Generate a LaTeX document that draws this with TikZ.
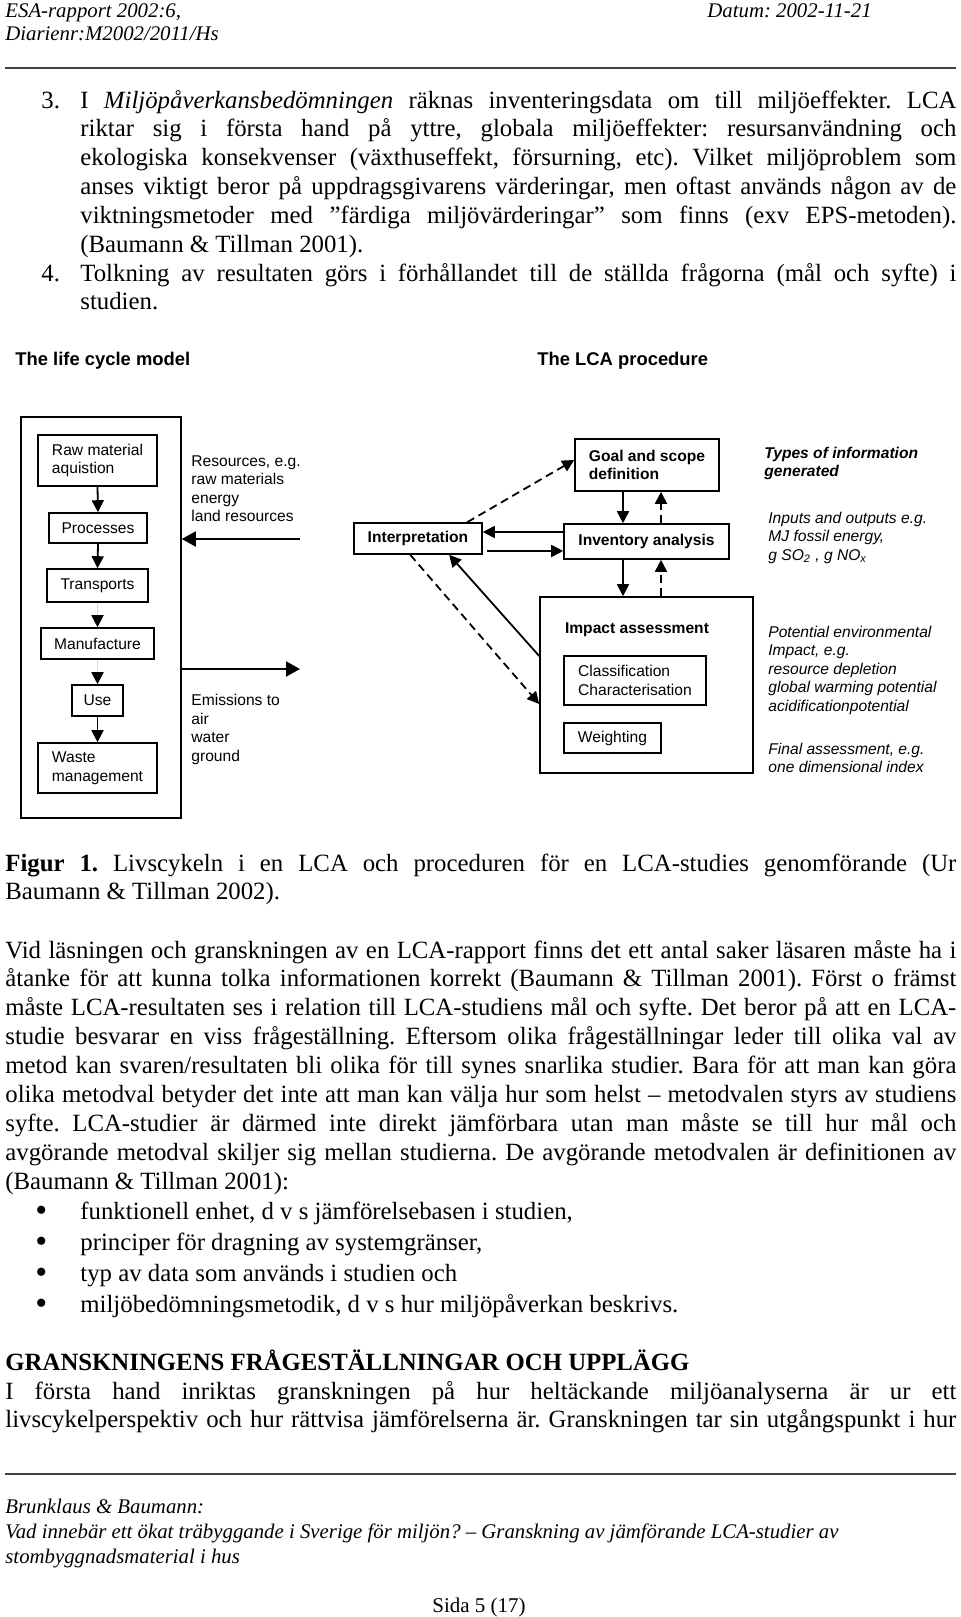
\documentclass[tikz,border=0pt]{standalone}
\usepackage{fontspec}
\setmainfont{Liberation Serif}
\setsansfont{Liberation Sans}
\usetikzlibrary{arrows.meta,calc}
\frenchspacing
\newcommand\justline[1]{\makebox[\hsize][s]{\spaceskip=0pt\xspaceskip=0pt #1}}
\tikzset{
  bodytext/.style={inner sep=0pt, anchor=base west, align=justify, text width=475.5pt, font=\fontsize{12.4pt}{14.45pt}\selectfont},
  headtext/.style={inner sep=0pt, anchor=base west, align=justify, text width=460pt, font=\itshape\fontsize{10.4pt}{11.8pt}\selectfont},
  foottext/.style={headtext, font=\itshape\fontsize{10.4pt}{12.5pt}\selectfont},
  figtext/.style={inner sep=0pt, anchor=base west, align=justify, text width=100pt, font=\sffamily\fontsize{7.8pt}{9.25pt}\selectfont},
  infotext/.style={figtext, font=\sffamily\itshape\fontsize{7.8pt}{9.25pt}\selectfont},
  stagebox/.style={draw, line width=0.8pt, align=left, font=\sffamily\fontsize{7.8pt}{9.25pt}\selectfont},
  lcabox/.style={stagebox, font=\sffamily\bfseries\fontsize{7.8pt}{9.25pt}\selectfont},
  flow/.style={line width=0.9pt, -{Triangle[length=6pt,width=6pt]}},
  faintflow/.style={line width=0.9pt, draw=black!15, -{Triangle[length=6pt,width=6pt,color=black]}},
  flowdash/.style={flow, dash pattern=on 4pt off 2.5pt},
  bigflow/.style={line width=1pt, -{Triangle[length=7pt,width=7.5pt]}},
  pagerule/.style={line width=1pt, black!75},
}
\begin{document}
\begin{tikzpicture}[x=0.5pt,y=-0.5pt]
\useasboundingbox (0,0) rectangle (960,1617);
% header
\node[headtext] (hdl) at (5,17) {ESA-rapport 2002:6,\\Diarienr:M2002/2011/Hs};
\node[headtext, text width=100pt] (hdr) at (707,17) {Datum: 2002-11-21};
\draw[pagerule] (5,68) -- (956,68);
% numbered items
\node[bodytext, text width=30pt] (n3) at (41,108) {3.};
\node[bodytext, text width=438pt] (item3) at (80,108) {%
\justline{I \textit{Miljöpåverkansbedömningen} räknas inventeringsdata om till miljöeffekter. LCA}\\
\justline{riktar sig i första hand på yttre, globala miljöeffekter: resursanvändning och}\\
\justline{ekologiska konsekvenser (växthuseffekt, försurning, etc). Vilket miljöproblem som}\\
\justline{anses viktigt beror på uppdragsgivarens värderingar, men oftast används någon av de}\\
\justline{viktningsmetoder med ”färdiga miljövärderingar” som finns (exv EPS-metoden).}\\
(Baumann \& Tillman 2001).};
\node[bodytext, text width=30pt] (n4) at (41,281) {4.};
\node[bodytext, text width=438pt] (item4) at (80,281) {%
\justline{Tolkning av resultaten görs i förhållandet till de ställda frågorna (mål och syfte) i}\\
studien.};
% figure titles
\node[figtext, font=\sffamily\bfseries\fontsize{9.2pt}{11pt}\selectfont] (lcmtitle) at (15,365) {The life cycle model};
\node[figtext, font=\sffamily\bfseries\fontsize{9.2pt}{11pt}\selectfont] (lcatitle) at (537,365) {The LCA procedure};
% life cycle model
\node[draw, line width=0.8pt, minimum width=80pt, minimum height=200.5pt] (lcm) at (101,617.5) {};
\node[stagebox, minimum width=59.5pt, minimum height=25.5pt] (raw) at (97.5,460.5) {Raw material\\aquistion};
\node[stagebox, minimum width=49pt, minimum height=15pt] (proc) at (98,528) {Processes};
\node[stagebox, minimum width=50.5pt, minimum height=16.5pt] (trans) at (97.5,585.5) {Transports};
\node[stagebox, minimum width=56.5pt, minimum height=15.5pt] (manuf) at (97.5,643.5) {Manufacture};
\node[stagebox, minimum width=25.5pt, minimum height=15.5pt] (use) at (97.5,700.5) {Use};
\node[stagebox, minimum width=59.5pt, minimum height=25pt] (waste) at (97.5,768) {Waste\\management};
\foreach \a/\b in {raw/proc, proc/trans, use/waste}
  \draw[flow] (\a.south) -- (\b.north);
\foreach \a/\b in {trans/manuf, manuf/use}
  \draw[faintflow] (\a.south) -- (\b.north);
\coordinate (resin) at (300,539);
\coordinate (emout) at (300,669);
\draw[bigflow] (resin) -- (resin -| lcm.east);
\draw[bigflow] (emout -| lcm.east) -- (emout);
\node[figtext] (restext) at (191,466) {Resources, e.g.\\raw materials\\energy\\land resources};
\node[figtext] (emtext) at (191,705.5) {Emissions to\\air\\water\\ground};
% LCA procedure
\node[lcabox, minimum width=64pt, minimum height=15.5pt] (interp) at (418,538.5) {Interpretation};
\node[lcabox, minimum width=72pt, minimum height=26pt] (goal) at (647,465) {Goal and scope\\definition};
\node[lcabox, minimum width=82.5pt, minimum height=17.5pt] (inv) at (646.5,541.5) {Inventory analysis};
\node[draw, line width=0.8pt, minimum width=106.5pt, minimum height=88pt] (impact) at (646.5,685) {};
\node[lcabox, draw=none] (impacttext) at (637,630) {Impact assessment};
\node[stagebox, minimum width=71pt, minimum height=24.5pt] (class) at (635,680.5) {Classification\\Characterisation};
\node[stagebox, minimum width=48.5pt, minimum height=15pt] (weight) at (612.5,738) {Weighting};
\coordinate (cdn) at (623,0);
\coordinate (cup) at (661,0);
\coordinate (hi) at (0,532);
\coordinate (lo) at (0,551);
\draw[flow] (goal.south -| cdn) -- (inv.north -| cdn);
\draw[flowdash] (inv.north -| cup) -- (goal.south -| cup);
\draw[flow] (inv.south -| cdn) -- (impact.north -| cdn);
\draw[flowdash] (impact.north -| cup) -- (inv.south -| cup);
\draw[flow] (inv.west |- hi) -- (interp.east |- hi);
\draw[flow] ([xshift=2pt]interp.east |- lo) -- (inv.west |- lo);
\draw[flowdash] ($(interp.north west)!0.88!(interp.north east)$) -- ([yshift=2.5pt]goal.west);
\draw[flowdash] ($(interp.south west)!0.44!(interp.south east)$) -- ([yshift=-9.5pt]impact.west);
\draw[flow] ([yshift=14.5pt]impact.west) -- ($(interp.south west)!0.74!(interp.south east)$);
% types of information
\node[infotext, font=\sffamily\bfseries\itshape\fontsize{7.8pt}{9.25pt}\selectfont] (typeshead) at (764,458) {Types of information\\generated};
\node[infotext] (invinfo) at (768,523) {Inputs and outputs e.g.\\MJ fossil energy,\\g SO\textsubscript{2} , g NO\textsubscript{x}};
\node[infotext] (impinfo) at (768,637) {Potential environmental\\Impact, e.g.\\resource depletion\\global warming potential\\acidificationpotential};
\node[infotext] (finalinfo) at (768,754) {Final assessment, e.g.\\one dimensional index};
% caption and text
\node[bodytext] (caption) at (5,871) {%
\justline{\textbf{Figur 1.} Livscykeln i en LCA och proceduren för en LCA-studies genomförande (Ur}\\
Baumann \& Tillman 2002).};
\node[bodytext] (para1) at (5,958) {%
\justline{Vid läsningen och granskningen av en LCA-rapport finns det ett antal saker läsaren måste ha i}\\
\justline{åtanke för att kunna tolka informationen korrekt (Baumann \& Tillman 2001). Först o främst}\\
\justline{måste LCA-resultaten ses i relation till LCA-studiens mål och syfte. Det beror på att en LCA-}\\
\justline{studie besvarar en viss frågeställning. Eftersom olika frågeställningar leder till olika val av}\\
\justline{metod kan svaren/resultaten bli olika för till synes snarlika studier. Bara för att man kan göra}\\
\justline{olika metodval betyder det inte att man kan välja hur som helst – metodvalen styrs av studiens}\\
\justline{syfte. LCA-studier är därmed inte direkt jämförbara utan man måste se till hur mål och}\\
\justline{avgörande metodval skiljer sig mellan studierna. De avgörande metodvalen är definitionen av}\\
(Baumann \& Tillman 2001):};
\node[bodytext, text width=20pt, font=\fontsize{17pt}{15.5pt}\selectfont] (dots) at (35,1221) {•\\•\\•\\•};
\node[bodytext, text width=430pt, font=\fontsize{12.4pt}{15.5pt}\selectfont] (bullets) at (80,1219) {funktionell enhet, d v s jämförelsebasen i studien,\\principer för dragning av systemgränser,\\typ av data som används i studien och\\miljöbedömningsmetodik, d v s hur miljöpåverkan beskrivs.};
\node[bodytext, font=\bfseries\fontsize{12.4pt}{14.45pt}\selectfont] (heading) at (5,1370) {GRANSKNINGENS FRÅGESTÄLLNINGAR OCH UPPLÄGG};
\node[bodytext] (para2) at (5,1399) {%
\justline{I första hand inriktas granskningen på hur heltäckande miljöanalyserna är ur ett}\\
\justline{livscykelperspektiv och hur rättvisa jämförelserna är. Granskningen tar sin utgångspunkt i hur}};
% footer
\draw[pagerule] (5,1474) -- (956,1474);
\node[foottext] (foot) at (5,1513) {Brunklaus \& Baumann:\\Vad innebär ett ökat träbyggande i Sverige för miljön? – Granskning av jämförande LCA-studier av\\stombyggnadsmaterial i hus};
\node[inner sep=0pt, anchor=base, font=\fontsize{10.5pt}{12pt}\selectfont] (pageno) at (479,1612) {Sida 5 (17)};
\end{tikzpicture}
\end{document}
